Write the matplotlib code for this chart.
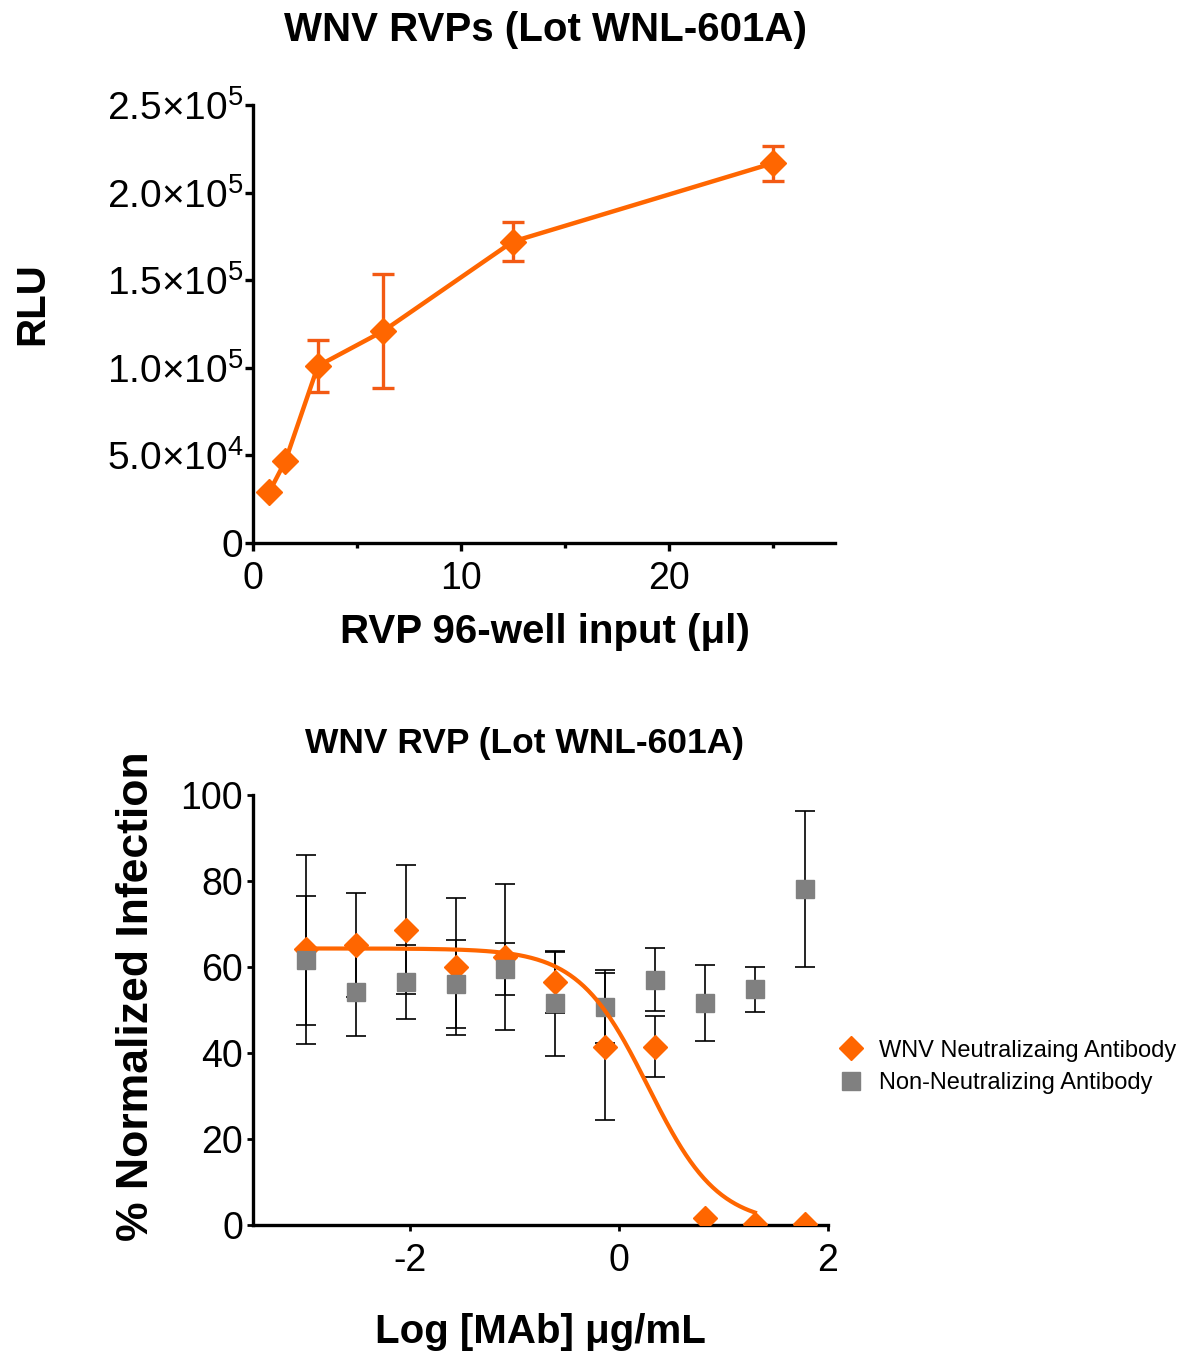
import numpy as np
import matplotlib
matplotlib.use('Agg')
from matplotlib import pyplot as plt
from matplotlib.ticker import MultipleLocator

plt.rcParams['font.family'] = ['Liberation Sans', 'DejaVu Sans']
plt.rcParams['mathtext.fontset'] = 'custom'
plt.rcParams['mathtext.rm'] = 'Liberation Sans'
plt.rcParams['mathtext.it'] = 'Liberation Sans'
plt.rcParams['mathtext.bf'] = 'Liberation Sans:bold'
plt.rcParams['axes.unicode_minus'] = False

ORANGE = '#FF6600'
ERR_ORANGE = '#F35A14'
GRAY = '#808080'

# - top panel data: RVP titration -----------------------------------------
rvp_ul = [0.78, 1.56, 3.125, 6.25, 12.5, 25.0]
rlu = [29000, 46800, 101000, 120800, 172000, 216700]
rlu_err = [0, 0, 15000, 32500, 11300, 10000]
rlu_ticks = [0, 50000, 100000, 150000, 200000, 250000]
rlu_labels = ['0', '5.0×10$^{4}$', '1.0×10$^{5}$', '1.5×10$^{5}$',
              '2.0×10$^{5}$', '2.5×10$^{5}$']

# - bottom panel data: neutralization -------------------------------------
log_mab = [-2.993, -2.516, -2.039, -1.562, -1.085, -0.607, -0.130,
           0.347, 0.824, 1.301, 1.778]
wnv_inf = [64.1, 65.1, 68.6, 60.1, 62.3, 56.4, 41.5, 41.5, 1.7, 0.3, 0.2]
wnv_err = [22.0, 12.0, 15.0, 16.0, 17.0, 7.0, 17.0, 7.2, 0, 0, 0]
non_inf = [61.6, 54.2, 56.5, 56.0, 59.5, 51.6, 50.8, 57.0, 51.6, 54.8, 78.1]
non_err = [15.0, 10.3, 8.5, 10.2, 6.0, 12.2, 8.5, 7.3, 8.8, 5.3, 18.1]

# 4PL fit parameters for the WNV curve
fit_top = 64.3
fit_bottom = 0.0
fit_logic50 = 0.28
fit_hill = 1.3
fit_range = (-2.993, 1.301)

fig = plt.figure(figsize=(11.96, 13.54), dpi=100)

# - top panel ---------------------------------------------------------------
ax1 = fig.add_axes([0.2115, 0.599, 0.4866, 0.3235])
ax1.errorbar(rvp_ul, rlu, yerr=rlu_err, fmt='none', ecolor=ERR_ORANGE,
             elinewidth=2.4, capsize=8, capthick=2.4, zorder=2)
ax1.plot(rvp_ul, rlu, color=ORANGE, lw=3.2, marker='D', ms=13,
         mec=ORANGE, mfc=ORANGE, zorder=3)
ax1.set_xlim(0, 28)
ax1.set_ylim(0, 250000)
ax1.set_xticks([0, 10, 20])
ax1.xaxis.set_minor_locator(MultipleLocator(5))
ax1.set_yticks(rlu_ticks)
ax1.set_yticklabels(rlu_labels)
for s in ['top', 'right']:
    ax1.spines[s].set_visible(False)
for s in ['left', 'bottom']:
    ax1.spines[s].set_linewidth(2.4)
ax1.tick_params(which='both', direction='out', width=2.4, labelsize=27)
ax1.tick_params(axis='y', labelsize=28, pad=1)
ax1.tick_params(axis='x', pad=7)
ax1.tick_params(which='major', length=6)
ax1.tick_params(which='minor', length=3.5)

fig.text(0.456, 0.978, 'WNV RVPs (Lot WNL-601A)', ha='center', va='center',
         fontsize=29, fontweight='bold')
fig.text(0.027, 0.776, 'RLU', ha='center', va='center', rotation=90,
         fontsize=29, fontweight='bold')
fig.text(0.456, 0.533, 'RVP 96-well input (μl)', ha='center', va='center',
         fontsize=29, fontweight='bold')

# - bottom panel ------------------------------------------------------------
ax2 = fig.add_axes([0.2115, 0.0953, 0.4808, 0.3176])
ax2.errorbar(log_mab, wnv_inf, yerr=wnv_err, fmt='none', ecolor='black',
             elinewidth=1.2, capsize=7.5, capthick=1.2, zorder=2)
ax2.errorbar(log_mab, non_inf, yerr=non_err, fmt='none', ecolor='black',
             elinewidth=1.2, capsize=7.5, capthick=1.2, zorder=2)
ax2.plot(log_mab, wnv_inf, 'D', ms=12.5, color=ORANGE, zorder=3,
         label='WNV Neutralizaing Antibody')
ax2.plot(log_mab, non_inf, 's', ms=13.5, color=GRAY, zorder=4,
         label='Non-Neutralizing Antibody')
xfit = np.linspace(fit_range[0], fit_range[1], 300)
yfit = fit_bottom + (fit_top - fit_bottom) / \
    (1 + 10 ** ((xfit - fit_logic50) * fit_hill))
ax2.plot(xfit, yfit, '-', color=ORANGE, lw=3, zorder=5)
ax2.set_xlim(-3.5, 2)
ax2.set_ylim(0, 100)
ax2.set_xticks([-2, 0, 2])
ax2.set_yticks([0, 20, 40, 60, 80, 100])
for s in ['top', 'right']:
    ax2.spines[s].set_visible(False)
for s in ['left', 'bottom']:
    ax2.spines[s].set_linewidth(2.4)
ax2.tick_params(direction='out', width=2.0, length=4, labelsize=27, pad=3)
ax2.tick_params(axis='x', pad=9)

fig.text(0.4385, 0.451, 'WNV RVP (Lot WNL-601A)', ha='center', va='center',
         fontsize=25.5, fontweight='bold')
fig.text(0.114, 0.264, '% Normalized Infection', ha='center', va='center',
         rotation=90, fontsize=32, fontweight='bold')
fig.text(0.4515, 0.016, 'Log [MAb] μg/mL', ha='center', va='center',
         fontsize=29, fontweight='bold')

fig.legend(loc='center left', bbox_to_anchor=(0.682, 0.212), frameon=False,
           fontsize=17, handlelength=1.2, handletextpad=0.6,
           labelspacing=0.45, markerscale=0.95)

fig.savefig('out.png', dpi=100)
